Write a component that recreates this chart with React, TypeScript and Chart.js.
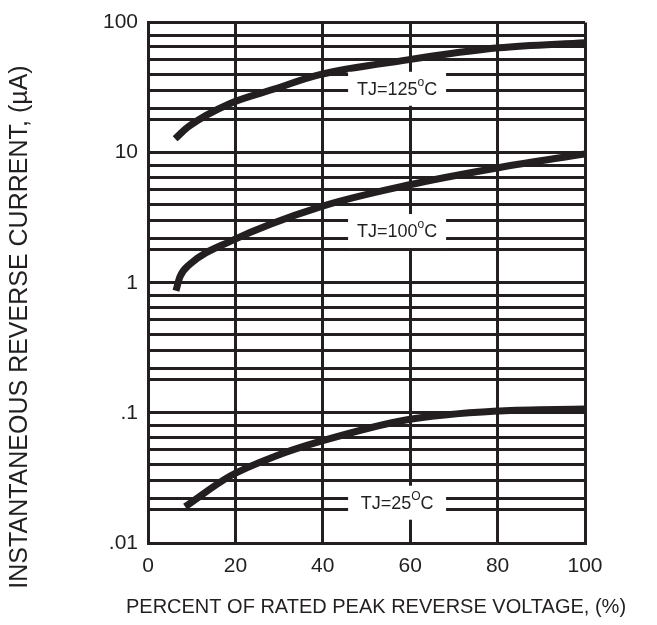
import React, { useEffect, useRef } from 'react';
import { Chart, registerables } from 'chart.js';

Chart.register(...registerables);

// ---- data ----
const xTicks = [0, 20, 40, 60, 80, 100];
const yDecades = [0.01, 0.1, 1, 10, 100];
const yTickLabels = ['.01', '.1', '1', '10', '100'];
const yMinorMultipliers = [1.8, 2.2, 3, 4, 5.2, 6.5, 8];

const x125 = [6.2, 9.4, 18.8, 29.1, 39.1, 59.0, 80.3, 100];
const y125 = [12.8, 16.0, 23.9, 31.0, 39.6, 51.5, 64.0, 70.0];
const x100 = [6.4, 7.3, 9.6, 18.8, 39.4, 59.3, 80.5, 100];
const y100 = [0.87, 1.11, 1.39, 2.08, 3.83, 5.62, 7.7, 9.8];
const x25 = [8.5, 18.8, 29.1, 39.4, 59.3, 80.5, 100];
const y25 = [0.019, 0.0327, 0.0464, 0.0603, 0.0885, 0.1035, 0.107];

const curveLabels = ['TJ=125', 'TJ=100', 'TJ=25'];
const curveLabelSup = ['o', 'o', 'O'];
const curveLabelTail = ['C', 'C', 'C'];
const labelX = [57, 57, 57];
const labelY = [31, 2.5, 0.0204];

const xTitle = 'PERCENT OF RATED PEAK REVERSE VOLTAGE, (%)';
const yTitle = 'INSTANTANEOUS REVERSE CURRENT, (µA)';

const INK = '#231f20';
const FONT = '"Liberation Sans", Arial, Helvetica, sans-serif';

const toPoints = (xs: number[], ys: number[]) => xs.map((x, i) => ({ x, y: ys[i] }));

const labelPlugin = {
  id: 'curveLabels',
  afterDatasetsDraw(chart: any) {
    const ctx = chart.ctx as CanvasRenderingContext2D;
    const xs = chart.scales.x;
    const ys = chart.scales.y;
    curveLabels.forEach((t, i) => {
      const cx = xs.getPixelForValue(labelX[i]);
      const cy = ys.getPixelForValue(labelY[i]);
      ctx.save();
      ctx.fillStyle = '#ffffff';
      ctx.fillRect(cx - 49, cy - 17, 98, 34);
      const mainFont = `18px ${FONT}`;
      const supFont = `12px ${FONT}`;
      ctx.font = mainFont;
      const w1 = ctx.measureText(t).width;
      const w3 = ctx.measureText(curveLabelTail[i]).width;
      ctx.font = supFont;
      const w2 = ctx.measureText(curveLabelSup[i]).width;
      const total = w1 + w2 + w3;
      let x = cx - total / 2;
      ctx.fillStyle = INK;
      ctx.textBaseline = 'middle';
      ctx.textAlign = 'left';
      ctx.font = mainFont;
      ctx.fillText(t, x, cy + 1);
      x += w1;
      ctx.font = supFont;
      ctx.fillText(curveLabelSup[i], x, cy - 6);
      x += w2;
      ctx.font = mainFont;
      ctx.fillText(curveLabelTail[i], x, cy + 1);
      ctx.restore();
    });
  },
  afterDraw(chart: any) {
    const ctx = chart.ctx as CanvasRenderingContext2D;
    ctx.save();
    ctx.fillStyle = INK;
    ctx.textAlign = 'center';
    ctx.textBaseline = 'middle';
    ctx.font = `20px ${FONT}`;
    ctx.fillText(xTitle, 376, 607);
    ctx.translate(20, 327);
    ctx.rotate(-Math.PI / 2);
    ctx.font = `25px ${FONT}`;
    ctx.fillText(yTitle, 0, 0);
    ctx.restore();
  },
};

export default function App() {
  const ref = useRef<HTMLCanvasElement | null>(null);

  useEffect(() => {
    if (!ref.current) return;
    const yGrid: number[] = [];
    yDecades.forEach((d, i) => {
      yGrid.push(d);
      if (i < yDecades.length - 1) yMinorMultipliers.forEach((m) => yGrid.push(d * m));
    });

    const lineStyle = {
      borderColor: INK,
      borderWidth: 7,
      pointRadius: 0,
      fill: false,
      cubicInterpolationMode: 'monotone' as const,
      borderCapStyle: 'butt' as const,
    };

    const chart = new Chart(ref.current, {
      type: 'line',
      data: {
        datasets: [
          { label: 'TJ=125°C', data: toPoints(x125, y125), ...lineStyle },
          { label: 'TJ=100°C', data: toPoints(x100, y100), ...lineStyle },
          { label: 'TJ=25°C', data: toPoints(x25, y25), ...lineStyle },
        ],
      },
      options: {
        animation: false,
        responsive: true,
        maintainAspectRatio: false,
        layout: { padding: { left: 0, right: 72, top: 15, bottom: 0 } },
        plugins: { legend: { display: false }, tooltip: { enabled: false } },
        scales: {
          x: {
            type: 'linear',
            min: 0,
            max: 100,
            afterBuildTicks: (scale: any) => {
              scale.ticks = xTicks.map((v) => ({ value: v }));
            },
            afterFit: (scale: any) => {
              scale.height = 82;
            },
            grid: { color: INK, lineWidth: 3, drawTicks: false },
            border: { display: true, color: INK, width: 3 },
            ticks: {
              color: INK,
              font: { family: FONT, size: 21 },
              padding: 11,
              maxRotation: 0,
              autoSkip: false,
            },
            title: { display: false, text: xTitle },
          },
          y: {
            type: 'logarithmic',
            min: 0.01,
            max: 100,
            afterBuildTicks: (scale: any) => {
              scale.ticks = yGrid.map((v) => ({ value: v }));
            },
            afterFit: (scale: any) => {
              scale.width = 148;
            },
            grid: { color: INK, lineWidth: 3, drawTicks: false },
            border: { display: true, color: INK, width: 3 },
            ticks: {
              color: INK,
              font: { family: FONT, size: 21 },
              padding: 10,
              autoSkip: false,
              callback: (v: any) => {
                const idx = yDecades.findIndex((d) => Math.abs(d - Number(v)) < d * 1e-6);
                return idx >= 0 ? yTickLabels[idx] : '';
              },
            },
            title: { display: false, text: yTitle },
          },
        },
      },
      plugins: [labelPlugin],
    });
    return () => chart.destroy();
  }, []);

  return (
    <div style={{ position: 'fixed', left: 0, top: 0, width: 657, height: 625, background: '#fff' }}>
      <canvas ref={ref} />
    </div>
  );
}
